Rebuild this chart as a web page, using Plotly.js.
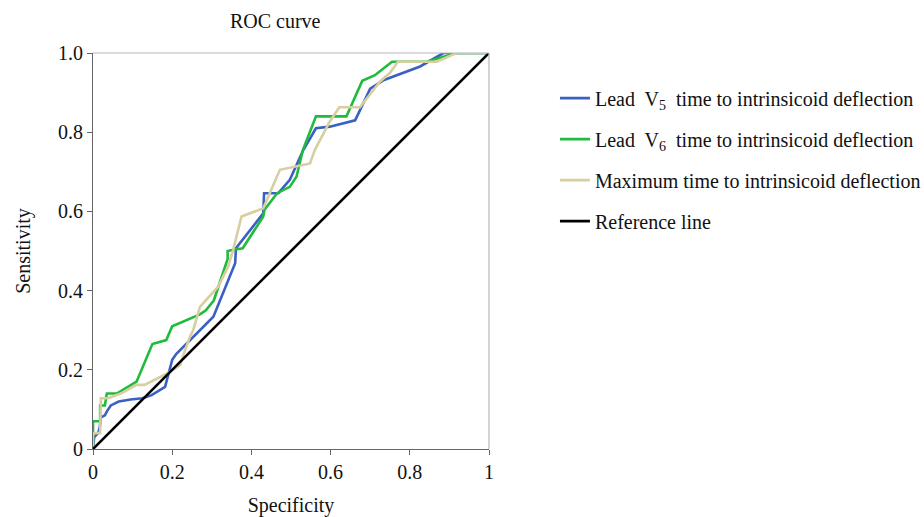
<!DOCTYPE html>
<html>
<head>
<meta charset="utf-8">
<script src="https://cdn.plot.ly/plotly-3.0.1.min.js"></script>
<style>html,body{margin:0;padding:0;background:#fff;}#chart{width:924px;height:517px;}</style>
</head>
<body>
<div id="chart"></div>
<script>
// Data (x = Specificity axis value, y = Sensitivity)
var v5X = [0,0.003,0.013,0.017,0.02,0.03,0.035,0.045,0.065,0.095,0.125,0.148,0.182,0.2,0.21,0.228,0.27,0.304,0.359,0.361,0.43,0.432,0.468,0.497,0.531,0.563,0.598,0.662,0.7,0.735,0.826,0.885,1];
var v5Y = [0,0.03,0.04,0.055,0.08,0.085,0.095,0.11,0.12,0.125,0.128,0.136,0.157,0.225,0.24,0.258,0.3,0.334,0.469,0.507,0.595,0.646,0.646,0.68,0.755,0.81,0.814,0.83,0.91,0.932,0.966,1,1];

var v6X = [0,0,0.018,0.018,0.03,0.035,0.06,0.11,0.15,0.185,0.2,0.27,0.285,0.305,0.34,0.34,0.355,0.378,0.43,0.433,0.465,0.497,0.514,0.53,0.563,0.64,0.68,0.712,0.755,0.842,0.918,1];
var v6Y = [0,0.07,0.07,0.11,0.11,0.14,0.14,0.17,0.265,0.275,0.31,0.34,0.35,0.375,0.48,0.5,0.503,0.507,0.587,0.604,0.646,0.662,0.688,0.755,0.84,0.84,0.93,0.944,0.978,0.978,1,1];

var maxX = [0,0,0.018,0.02,0.038,0.07,0.11,0.13,0.186,0.22,0.228,0.245,0.253,0.27,0.316,0.341,0.354,0.375,0.43,0.447,0.472,0.548,0.56,0.598,0.622,0.674,0.725,0.75,0.77,0.868,0.918,1];
var maxY = [0,0.04,0.04,0.128,0.128,0.14,0.162,0.162,0.19,0.212,0.237,0.284,0.3,0.359,0.41,0.46,0.503,0.587,0.608,0.646,0.705,0.721,0.755,0.827,0.863,0.863,0.928,0.95,0.978,0.978,1,1];

var refX = [0,1];
var refY = [0,1];

var seriesNames = [
  'Lead  V<sub>5</sub>  time to intrinsicoid deflection',
  'Lead  V<sub>6</sub>  time to intrinsicoid deflection',
  'Maximum time to intrinsicoid deflection',
  'Reference line'
];
var seriesColors = ['#3a60c2', '#1fbb3c', '#d8cea0', '#000000'];

var xTickVals = [0,0.2,0.4,0.6,0.8,1];
var xTickText = ['0','0.2','0.4','0.6','0.8','1'];
var yTickVals = [0,0.2,0.4,0.6,0.8,1];
var yTickText = ['0','0.2','0.4','0.6','0.8','1.0'];

var xs = [v5X, v6X, maxX, refX];
var ys = [v5Y, v6Y, maxY, refY];
var traces = [];
for (var i = 0; i < 4; i++) {
  traces.push({
    x: xs[i], y: ys[i], type: 'scatter', mode: 'lines',
    name: seriesNames[i], legendgroup: 'g' + i,
    line: {color: seriesColors[i], width: 2.6},
    cliponaxis: false, hoverinfo: 'skip'
  });
}

var fam = '"Liberation Serif", "Times New Roman", serif';

var layout = {
  width: 924, height: 517,
  margin: {l: 93, r: 435, t: 53, b: 68, autoexpand: false},
  paper_bgcolor: '#fff', plot_bgcolor: '#fff',
  font: {family: fam, size: 20, color: '#111'},
  title: {text: 'ROC curve', x: 0.46, xref: 'paper', xanchor: 'center', y: 0.96, yanchor: 'middle',
          font: {family: fam, size: 20, color: '#111'}},
  xaxis: {
    range: [0, 1], tickvals: xTickVals, ticktext: xTickText,
    showgrid: false, zeroline: false, showline: true, linecolor: '#666', linewidth: 1,
    ticks: 'outside', ticklen: 5, tickcolor: '#666',
    tickfont: {family: fam, size: 20, color: '#111'},
    title: {text: 'Specificity', font: {family: fam, size: 20, color: '#111'}, standoff: 22},
    fixedrange: true
  },
  yaxis: {
    range: [0, 1], tickvals: yTickVals, ticktext: yTickText,
    showgrid: false, zeroline: false, showline: true, linecolor: '#666', linewidth: 1,
    ticks: 'outside', ticklen: 5, tickcolor: '#666',
    tickfont: {family: fam, size: 20, color: '#111'},
    title: {text: 'Sensitivity', font: {family: fam, size: 20, color: '#111'}, standoff: 22},
    fixedrange: true
  },
  shapes: [
    {type: 'line', xref: 'paper', yref: 'paper', x0: 0, x1: 1, y0: 1, y1: 1, line: {color: '#b8b8b8', width: 1.2}},
    {type: 'line', xref: 'paper', yref: 'paper', x0: 1, x1: 1, y0: 0, y1: 1, line: {color: '#b8b8b8', width: 1.2}}
  ],
  showlegend: true,
  legend: {
    xref: 'container', yref: 'container',
    x: 0.6006, xanchor: 'left', y: 0.848, yanchor: 'top',
    traceorder: 'grouped', tracegroupgap: 12,
    font: {family: fam, size: 20, color: '#111'},
    bgcolor: 'rgba(0,0,0,0)', borderwidth: 0
  }
};

Plotly.newPlot('chart', traces, layout, {displayModeBar: false, staticPlot: true});
</script>
</body>
</html>
